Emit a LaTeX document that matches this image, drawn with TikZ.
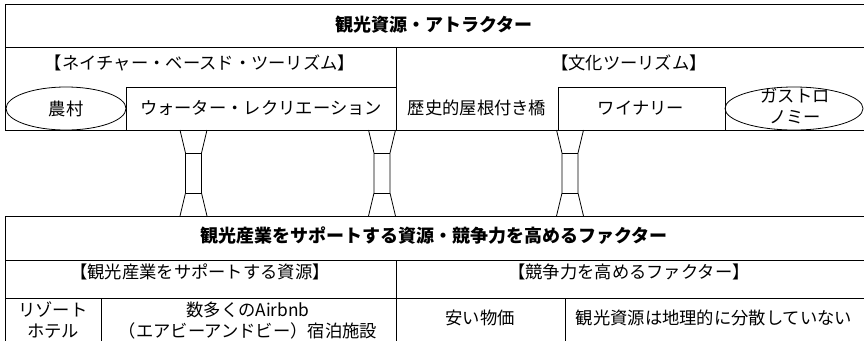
\documentclass[tikz,border=0pt]{standalone}
\usepackage{fontspec}
\setmainfont{Noto Sans CJK JP}
\usetikzlibrary{shapes.geometric}
\begin{document}
\begin{tikzpicture}[x=1pt,y=-1pt,line width=0.8pt,
  txt/.style={font=\fontsize{17.3}{21}\selectfont,inner sep=0pt,align=center},
  ttl/.style={font=\fontsize{18}{21}\selectfont\bfseries,inner sep=0pt,align=center},
  oval/.style={draw,ellipse,inner sep=0pt,minimum height=43pt,font=\fontsize{17.3}{21}\selectfont,align=center}]
\useasboundingbox (0,0) rectangle (864,341);
% top block frame
\draw (864,4) -- (5,4) -- (5,130) -- (864,130);
\draw (5,47) -- (864,47);
\draw (396,47) -- (396,130);
\draw (126,130) -- (126,87) -- (396,87);
\draw (558,130) -- (558,87) -- (725,87) -- (725,130);
% top texts
\node[ttl] (t1) at (434,25) {観光資源・アトラクター};
\node[txt] (n1) at (200,63) {【ネイチャー・ベースド・ツーリズム】};
\node[txt] (c1) at (629,63) {【文化ツーリズム】};
\node[oval,minimum width=120pt] (farm) at (66,108.5) {農村};
\node[txt] (water) at (261,108) {ウォーター・レクリエーション};
\node[txt] (bridge) at (477,108) {歴史的屋根付き橋};
\node[txt] (winery) at (641,108) {ワイナリー};
\node[oval,minimum width=138pt] (gastro) at (794,108.5) {};
\node[txt] (gastrotxt) at (795,106.5) {ガストロ\\ノミー};
% bridges
\foreach \c in {193.5,382,570}{
  \draw (\c-13.5,130) -- (\c-8,153) -- (\c-8,193) -- (\c-13.5,216);
  \draw (\c+13.5,130) -- (\c+8,153) -- (\c+8,193) -- (\c+13.5,216);
  \draw (\c-8,153) -- (\c+8,153);
  \draw (\c-8,193) -- (\c+8,193);
}
% bottom block frame
\draw (864,216) -- (5,216) -- (5,341);
\draw (5,260) -- (864,260);
\draw (5,298) -- (864,298);
\draw (396,260) -- (396,341);
\draw (101,298) -- (101,341);
\draw (565,298) -- (565,341);
% bottom texts
\node[ttl] (t2) at (434,236) {観光産業をサポートする資源・競争力を高めるファクター};
\node[txt] (s1) at (200,272) {【観光産業をサポートする資源】};
\node[txt] (s2) at (629,272) {【競争力を高めるファクター】};
\node[txt] (resort) at (53,320.5) {リゾート\\ホテル};
\node[txt] (airbnb) at (248,320.5) {数多くのAirbnb\\（エアビーアンドビー）宿泊施設};
\node[txt] (cheap) at (480,318) {安い物価};
\node[txt] (disp) at (714,318) {観光資源は地理的に分散していない};
\end{tikzpicture}
\end{document}
